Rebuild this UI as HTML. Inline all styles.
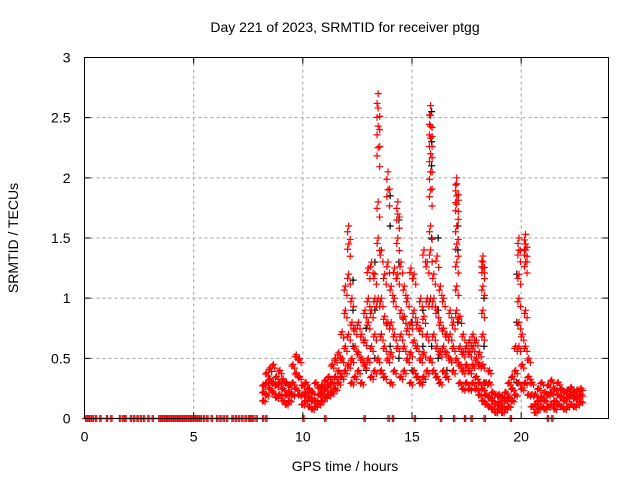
<!DOCTYPE html>
<html><head><meta charset="utf-8"><style>
html,body{margin:0;padding:0;background:#fff;}
svg{display:block;font-family:"Liberation Sans",sans-serif;}
</style></head><body>
<svg id="chart" width="640" height="480" viewBox="0 0 640 480">
<rect width="640" height="480" fill="#fff"/>
<g id="grid"></g>
<g id="black"></g>
<g id="red"></g>
<g id="axes"></g>
<text x="345" y="32" font-size="14" text-anchor="middle" fill="#000">Day 221 of 2023, SRMTID for receiver ptgg</text>
<text x="345" y="471" font-size="14" text-anchor="middle" fill="#000">GPS time / hours</text>
<text x="0" y="0" font-size="14" text-anchor="middle" fill="#000" transform="translate(18,238) rotate(-90)">SRMTID / TECUs</text>
</svg>
<script>
const xTicks=[0,5,10,15,20];
const yTicks=[0,0.5,1,1.5,2,2.5,3];
const yTickLabels=["0","0.5","1","1.5","2","2.5","3"];
const zeroHours=[0.05,0.15,0.25,0.35,0.5,0.7,1.0,1.2,1.6,1.75,1.85,2.1,2.25,2.4,2.55,2.7,2.9,3.1,3.4,3.5,3.6,3.7,3.8,3.9,4.0,4.1,4.2,4.3,4.4,4.5,4.6,4.7,4.8,4.9,5.0,5.1,5.2,5.3,5.45,5.6,5.8,6.05,6.2,6.35,6.5,6.75,6.9,7.05,7.2,7.35,7.5,7.6,7.7,7.85,8.15,8.3,10.0,11.0,12.8,13.9,14.1,15.1,16.3,16.9,17.4,17.7,18.3,19.5,21.2,21.4];
const redHours=[8.2,8.35,8.5,8.65,8.8,8.95,9.1,9.25,9.4,9.55,9.7,9.85,10.0,10.15,10.3,10.45,10.6,10.75,10.9,11.05,11.2,11.35,11.5,11.65,11.8,11.95,12.1,12.25,12.4,12.55,12.7,12.85,13.0,13.15,13.3,13.45,13.6,13.75,13.9,14.05,14.2,14.35,14.5,14.65,14.8,14.95,15.1,15.25,15.4,15.55,15.7,15.85,16.0,16.15,16.3,16.45,16.6,16.75,16.9,17.05,17.2,17.35,17.5,17.65,17.8,17.95,18.1,18.25,18.4,18.55,18.7,18.85,19.0,19.15,19.3,19.45,19.6,19.75,19.9,20.05,20.2,20.35,20.5,20.65,20.8,20.95,21.1,21.25,21.4,21.55,21.7,21.85,22.0,22.15,22.3,22.45,22.6,22.75];
const redValues=[
[0.15,0.22,0.28],[0.2,0.3,0.38],[0.25,0.33,0.42],[0.22,0.3,0.45],[0.18,0.28,0.35],[0.2,0.3,0.4],[0.15,0.25,0.33],[0.12,0.2,0.3],[0.15,0.22,0.28],[0.2,0.3,0.45],[0.25,0.38,0.53],[0.2,0.35,0.5],
[0.12,0.2,0.28],[0.15,0.22,0.3],[0.1,0.18,0.25],[0.08,0.15,0.22],[0.1,0.15,0.3],[0.12,0.2,0.26],[0.15,0.22,0.28],[0.18,0.25,0.32],[0.2,0.28,0.35],[0.22,0.3,0.45],[0.25,0.35,0.5],[0.3,0.4,0.55],[0.35,0.5,0.72],
[0.4,0.6,0.9,1.1],[0.45,0.7,1.2,1.45,1.6],[0.3,0.5,0.8,1.0],[0.35,0.6,0.75],[0.4,0.55,0.8],[0.3,0.5,0.7],[0.45,0.65,0.9],[0.5,0.8,1.0,1.25],[0.35,0.6,0.9,1.3],[0.4,0.7,1.0,1.2],
[0.5,1.0,1.5,1.8,2.25,2.43,2.58,2.7],[0.4,0.7,1.0,1.4],[0.35,0.6,0.85,1.2],[0.5,0.8,1.3,1.9,2.05],[0.3,0.55,0.8,1.1],[0.4,0.7,1.0,1.25],[0.6,1.2,1.5,1.7,1.8],[0.35,0.7,0.9,1.3],[0.4,0.6,0.85,1.1],[0.5,0.75,1.0],[0.3,0.55,0.8,1.25],[0.4,0.65,0.9,1.2],[0.35,0.6,0.8],[0.3,0.5,0.75,1.0],[0.35,0.55,0.85,1.4],
[0.4,0.7,1.0,1.3],[0.5,1.0,1.4,1.6,1.9,2.05,2.2,2.33,2.43,2.52,2.6],[0.4,0.7,1.0,1.2],[0.35,0.6,0.9,1.35],[0.3,0.55,0.8,1.1],[0.4,0.6,0.75,1.0],[0.35,0.55,0.7],[0.5,0.7,0.9],[0.4,0.6,0.8],
[0.5,0.9,1.1,1.3,1.45,1.6,1.78,1.85,1.95,2.0],[0.3,0.45,0.6,0.85],[0.25,0.4,0.55,0.7],[0.3,0.45,0.6],[0.25,0.4,0.55,0.65],[0.3,0.45,0.6,0.7],[0.25,0.35,0.5,0.65],[0.2,0.3,0.45,0.55],
[0.15,0.25,0.45,0.7,0.9,1.1,1.25,1.3,1.35],[0.12,0.2,0.3],[0.1,0.18,0.3,0.4],[0.08,0.15,0.22],[0.05,0.12,0.2],[0.08,0.14,0.2],[0.05,0.1,0.18],[0.08,0.15,0.22],[0.1,0.18,0.3],[0.15,0.25,0.35],[0.2,0.4,0.6],
[0.3,0.6,0.8,1.0,1.2,1.4,1.5],[0.25,0.45,0.7],[0.3,0.6,0.9,1.3,1.4,1.45,1.53],[0.2,0.35,0.5],[0.1,0.2,0.3],[0.05,0.12,0.2],[0.08,0.15,0.25],[0.1,0.18,0.3],[0.08,0.15,0.22],[0.1,0.2,0.28],[0.12,0.22,0.32],[0.08,0.15,0.25],
[0.12,0.2,0.3],[0.1,0.18,0.25],[0.08,0.15,0.22],[0.1,0.18,0.24],[0.12,0.2,0.26],[0.1,0.17,0.22],[0.12,0.18,0.24],[0.14,0.2,0.25],[0.12,0.18,0.22]];
const blackHours=[12.3,12.9,13.3,13.6,14.0,14.4,15.0,15.5,15.9,16.2,16.6,17.1,18.3,19.8];
const blackValues=[[0.6,0.9,1.15],[0.4,0.75],[0.5,0.9,1.3],[0.4,0.7],[0.6,1.6,1.85],[0.5,1.3,1.65],[0.4,0.8],[0.3,0.6,0.9],[0.6,1.5,2.1,2.3,2.55],[0.5,0.9,1.5],[0.4,0.7],[0.8,1.4,1.6],[0.3,0.6,1.0],[0.3,0.8,1.2]];

const L=84.5,R=608.5,T=57.5,B=418.5,XMAX=24,YMAX=3;
const xs=h=>L+(h/XMAX)*(R-L);
const ys=v=>B-(v/YMAX)*(B-T);
const NS="http://www.w3.org/2000/svg";
function mk(tag,attrs,parent){const e=document.createElementNS(NS,tag);for(const k in attrs)e.setAttribute(k,attrs[k]);parent.appendChild(e);return e;}
const grid=document.getElementById('grid'),axes=document.getElementById('axes');
xTicks.forEach(t=>{
  const x=xs(t);
  if(t>0){const g=mk('line',{x1:x,y1:T,x2:x,y2:B,stroke:'#a0a0a0','stroke-dasharray':'3,3'},grid);
  
  }
  const tk=mk('path',{d:`M${x} ${B}v-6M${x} ${T}v6`,stroke:'#000'},axes);
  
  
  const lb=mk('text',{x:x,y:B+23,'font-size':14,'text-anchor':'middle'},axes);lb.textContent=t;
  
  
});
yTicks.forEach((t,i)=>{
  const y=ys(t);
  if(t>0&&t<YMAX){const g=mk('line',{x1:L,y1:y,x2:R,y2:y,stroke:'#a0a0a0','stroke-dasharray':'3,3'},grid);
  
  }
  const tk=mk('path',{d:`M${L} ${y}h6M${R} ${y}h-6`,stroke:'#000'},axes);
  
  
  const lb=mk('text',{x:L-14,y:y+5,'font-size':14,'text-anchor':'end'},axes);lb.textContent=yTickLabels[i];
  
  
});
const fr=mk('rect',{x:L,y:T,width:R-L,height:B-T,fill:'none',stroke:'#000','stroke-width':1},axes);


function plus(g,h,v,color){
  const x=xs(h),y=ys(v);
  const p=mk('path',{d:`M${x-3.5} ${y}h7M${x} ${y-3.5}v7`,stroke:color,'stroke-width':1.2},g);
  
  
}
const bg=document.getElementById('black'),rg=document.getElementById('red');
blackHours.forEach((h,i)=>blackValues[i].forEach(v=>plus(bg,h,v,'#000')));
redHours.forEach((h,i)=>redValues[i].forEach(v=>{plus(rg,h,v,'#f00');plus(rg,h+0.07,v*0.93,'#f00');plus(rg,h-0.05,v*0.97,'#f00');}));
zeroHours.forEach(h=>{plus(rg,h,0,'#f00');plus(rg,h+0.06,0,'#f00');});
</script>
</body></html>
